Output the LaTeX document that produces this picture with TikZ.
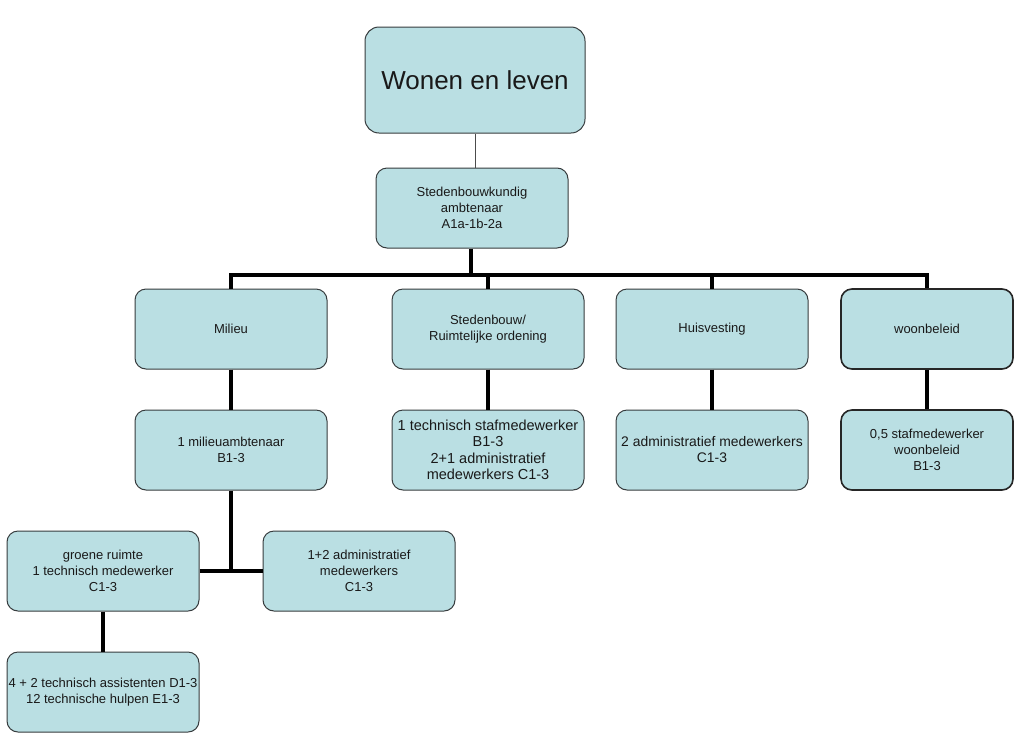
\documentclass[tikz,border=0pt]{standalone}
\usepackage{fontspec}
\setmainfont{Liberation Sans}
\definecolor{boxfill}{RGB}{186,223,227}
\definecolor{boxline}{RGB}{55,60,62}
\begin{document}
\begin{tikzpicture}[x=1pt,y=-1pt,
  orgbox/.style={draw=boxline, fill=boxfill, line width=1pt, rounded corners=11pt,
    minimum width=192pt, minimum height=80pt, inner sep=0pt, align=center,
    font=\fontsize{13}{16}\selectfont, text=black!90},
  bigbox/.style={orgbox, minimum width=220pt, minimum height=106pt, rounded corners=14pt,
    font=\fontsize{26}{30}\selectfont},
  darkbox/.style={orgbox, line width=1.6pt, draw=black!85},
  thin/.style={draw=black!70, line width=0.9pt},
  thick/.style={draw=black, line width=4pt}]
\useasboundingbox (0,0) rectangle (1024,750);
\fill[white] (0,0) rectangle (1024,750);

\node[bigbox] (top) at (475,80) {Wonen en leven};
\node[orgbox] (sted) at (472,208) {Stedenbouwkundig\\ambtenaar\\A1a-1b-2a};

\node[orgbox] (mil) at (231,329) {Milieu};
\node[orgbox] (stb) at (488,329) {Stedenbouw/\\Ruimtelijke ordening};
\node[orgbox] (hui) at (712,329) {Huisvesting};
\node[darkbox, minimum width=172pt] (woon) at (927,329) {woonbeleid};

\node[orgbox] (milamb) at (231,450) {1 milieuambtenaar\\B1-3};
\node[orgbox, font=\fontsize{14.5}{16.5}\selectfont] (stbmed) at (488,450) {1 technisch stafmedewerker\\B1-3\\2+1 administratief\\medewerkers C1-3};
\node[orgbox, font=\fontsize{13.9}{16}\selectfont] (huimed) at (712,450) {2 administratief medewerkers\\C1-3};
\node[darkbox, minimum width=172pt] (woonmed) at (927,450) {0,5 stafmedewerker\\woonbeleid\\B1-3};

\node[orgbox] (groen) at (103,571) {groene ruimte\\1 technisch medewerker\\C1-3};
\node[orgbox] (adm) at (359,571) {1+2 administratief\\medewerkers\\C1-3};
\node[orgbox] (ass) at (103,692) {4 + 2 technisch assistenten D1-3\\12 technische hulpen E1-3};

% connectors
\draw[thin] (top.south) -- (top.south |- sted.north);
\coordinate (bus) at (471,275);
\draw[thick] (sted.south -| bus) -- (bus);
\draw[thick, line cap=rect] (mil.north |- bus) -- (woon.north |- bus);
\draw[thick] (mil.north |- bus) -- (mil.north);
\draw[thick] (stb.north |- bus) -- (stb.north);
\draw[thick] (hui.north |- bus) -- (hui.north);
\draw[thick] (woon.north |- bus) -- (woon.north);

\draw[thick] (mil.south) -- (milamb.north);
\draw[thick] (stb.south) -- (stbmed.north);
\draw[thick] (hui.south) -- (huimed.north);
\draw[thick] (woon.south) -- (woonmed.north);

\coordinate (junc) at (231,571);
\draw[thick] (milamb.south) -- (junc);
\draw[thick] (groen.east) -- (adm.west);
\draw[thick] (groen.south) -- (ass.north);
\end{tikzpicture}
\end{document}
